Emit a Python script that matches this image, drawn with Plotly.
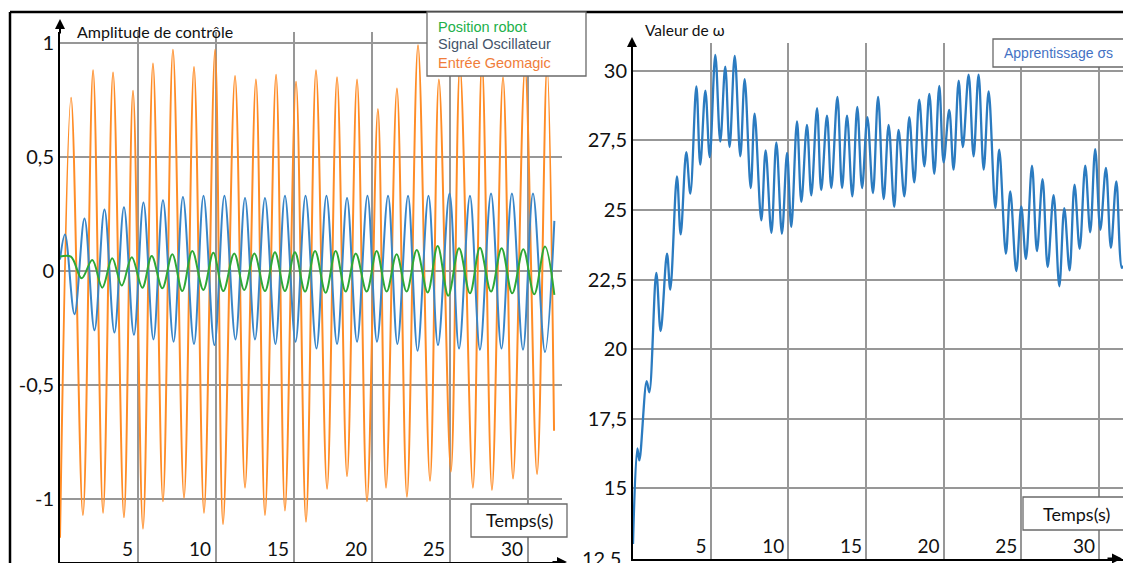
import plotly.graph_objects as go

W, H = 1123, 563

# ---------------- Left chart data (time in s, amplitude) ----------------
orange_t = [0.0, 0.71, 1.47, 2.12, 2.76, 3.40, 4.10, 4.68, 5.32, 5.96, 6.60, 7.24, 7.95, 8.59,
            9.23, 9.94, 10.45, 11.22, 11.86, 12.56, 13.14, 13.85, 14.42, 15.13, 15.77, 16.41,
            17.12, 17.76, 18.40, 19.04, 19.68, 20.38, 20.90, 21.60, 22.24, 22.95, 23.72, 24.29,
            25.06, 25.64, 26.47, 27.05, 27.69, 28.40, 29.04, 29.81, 30.58, 31.22, 31.67]
orange_v = [-1.17, 0.76, -1.07, 0.88, -1.06, 0.87, -1.08, 0.79, -1.13, 0.91, -1.01, 0.97, -0.995, 0.895,
            -1.06, 0.97, -1.11, 0.855, -0.95, 0.84, -1.07, 0.86, -1.05, 0.83, -1.10, 0.88,
            -0.955, 0.85, -0.90, 0.84, -1.01, 0.71, -0.95, 0.80, -0.99, 0.99, -0.92, 0.84,
            -0.88, 0.90, -0.95, 0.92, -0.96, 0.85, -0.91, 0.89, -0.89, 0.90, -0.70]

blue_t = [0.0, 0.32, 0.93, 1.57, 2.21, 2.85, 3.49, 4.10, 4.74, 5.35, 5.99, 6.60, 7.28, 7.88, 8.59,
          9.20, 9.90, 10.54, 11.25, 11.86, 12.50, 13.14, 13.81, 14.42, 15.10, 15.74, 16.44, 17.08,
          17.76, 18.40, 19.04, 19.71, 20.32, 21.03, 21.63, 22.31, 22.92, 23.62, 24.23, 24.97,
          25.58, 26.28, 26.92, 27.63, 28.30, 28.97, 29.68, 30.32, 31.09, 31.69]
blue_v = [0.05, 0.16, -0.19, 0.23, -0.26, 0.27, -0.27, 0.28, -0.28, 0.30, -0.30, 0.31, -0.31, 0.325, -0.32,
          0.33, -0.325, 0.33, -0.30, 0.32, -0.30, 0.32, -0.32, 0.33, -0.31, 0.33, -0.34, 0.33,
          -0.32, 0.32, -0.31, 0.33, -0.31, 0.33, -0.32, 0.33, -0.35, 0.33, -0.325, 0.34,
          -0.34, 0.33, -0.345, 0.34, -0.34, 0.34, -0.345, 0.34, -0.355, 0.22]

green_t = [0.0, 0.70, 1.39, 2.07, 2.71, 3.35, 3.96, 4.60, 5.28, 5.88, 6.56, 7.20, 7.84, 8.48, 9.19,
           9.83, 10.47, 11.17, 11.81, 12.46, 13.14, 13.78, 14.42, 15.06, 15.71, 16.35, 17.03,
           17.67, 18.31, 18.96, 19.66, 20.30, 20.94, 21.58, 22.22, 22.87, 23.57, 24.21, 24.89,
           25.58, 26.28, 26.92, 27.63, 28.31, 28.99, 29.70, 30.40, 31.09, 31.69]
green_v = [0.063, 0.063, -0.032, 0.048, -0.073, 0.056, -0.064, 0.060, -0.073, 0.066, -0.076, 0.073, -0.088, 0.088, -0.083,
           0.080, -0.088, 0.077, -0.083, 0.077, -0.088, 0.082, -0.088, 0.082, -0.090, 0.088, -0.095,
           0.088, -0.090, 0.077, -0.090, 0.088, -0.090, 0.073, -0.090, 0.092, -0.094, 0.110, -0.108,
           0.100, -0.098, 0.102, -0.090, 0.100, -0.098, 0.095, -0.102, 0.107, -0.105]

left_ticks_x = [5, 10, 15, 20, 25, 30]
left_ticks_y = [-1, -0.5, 0, 0.5, 1]
left_ticktext_y = ["-1", "-0,5", "0", "0,5", "1"]

# ---------------- Right chart data (time in s, omega) ----------------
omega_t = [0.0, 0.28, 0.41, 0.88, 1.05, 1.50, 1.78, 2.19, 2.40, 2.83, 3.07, 3.43, 3.69, 4.08, 4.33,
           4.66, 4.94, 5.30, 5.62, 5.94, 6.22, 6.55, 6.91, 7.19, 7.58, 7.83, 8.26, 8.54, 8.91,
           9.23, 9.59, 9.92, 10.19, 10.56, 10.84, 11.20, 11.48, 11.85, 12.12, 12.49, 12.77,
           13.16, 13.46, 13.78, 14.12, 14.44, 14.75, 15.09, 15.45, 15.78, 16.14, 16.46, 16.82,
           17.10, 17.47, 17.79, 18.11, 18.43, 18.76, 19.08, 19.40, 19.72, 20.00, 20.36, 20.64,
           20.97, 21.24, 21.61, 21.93, 22.25, 22.58, 22.90, 23.33, 23.58, 24.01, 24.29, 24.68,
           25.00, 25.30, 25.69, 26.01, 26.37, 26.70, 27.08, 27.45, 27.77, 28.11, 28.43, 28.76,
           29.12, 29.44, 29.76, 30.09, 30.45, 30.77, 31.12, 31.48, 31.60]
omega_v = [13.0, 16.43, 16.0, 18.85, 18.45, 22.74, 20.65, 23.43, 22.14, 26.21, 24.12, 27.08, 25.59, 29.44, 26.63,
           29.29, 26.90, 30.57, 27.46, 30.15, 27.26, 30.54, 26.93, 29.70, 25.79, 28.46, 24.63, 27.14, 24.18,
           27.43, 24.15, 27.05, 24.39, 28.18, 25.29, 28.06, 25.53, 28.66, 25.71, 28.39, 25.79,
           29.06, 25.79, 28.39, 25.49, 28.70, 25.79, 28.34, 25.61, 29.06, 25.39, 28.06, 25.11,
           27.88, 25.49, 28.34, 25.99, 28.96, 26.57, 29.17, 26.30, 29.46, 26.71, 28.60, 26.45,
           29.65, 27.26, 29.86, 26.93, 29.86, 26.45, 29.26, 25.07, 27.17, 23.43, 25.67, 22.80,
           25.13, 23.24, 26.59, 23.52, 26.11, 22.95, 25.53, 22.26, 25.07, 22.83, 25.91, 23.60,
           26.59, 24.20, 27.19, 24.29, 26.51, 23.64, 26.03, 22.92, 23.0]

right_ticks_x = [5, 10, 15, 20, 25, 30]
right_ticks_y = [12.5, 15, 17.5, 20, 22.5, 25, 27.5, 30]
right_ticktext_y = ["12,5", "15", "17,5", "20", "22,5", "25", "27,5", "30"]

legend_names = ["Position robot", "Signal Oscillateur", "Entrée Geomagic"]
legend_colors = ["#22b04a", "#44546a", "#f07d3a"]

C_ORANGE = "#ff8c26"
C_BLUE = "#3a86c8"
C_GREEN = "#2ea836"
C_OMEGA = "#2b7bc0"
GRID = "#979797"


def px(x):
    return x / W


def py(y):
    return 1 - y / H


fig = go.Figure()
fig.add_trace(go.Scatter(x=orange_t, y=orange_v, mode="lines", line=dict(color=C_ORANGE, width=2, shape="spline", smoothing=1.0),
                         xaxis="x", yaxis="y", name=legend_names[2]))
fig.add_trace(go.Scatter(x=blue_t, y=blue_v, mode="lines", line=dict(color=C_BLUE, width=2, shape="spline", smoothing=1.0),
                         xaxis="x", yaxis="y", name=legend_names[1]))
fig.add_trace(go.Scatter(x=green_t, y=green_v, mode="lines", line=dict(color=C_GREEN, width=2, shape="spline", smoothing=1.0),
                         xaxis="x", yaxis="y", name=legend_names[0]))
fig.add_trace(go.Scatter(x=omega_t, y=omega_v, mode="lines", line=dict(color=C_OMEGA, width=2.3, shape="spline", smoothing=1.0),
                         xaxis="x2", yaxis="y2", name="Apprentissage σs"))

axis_common = dict(showgrid=True, gridcolor=GRID, gridwidth=1.5, zeroline=False, showline=True,
                   linecolor="black", linewidth=2, ticks="", automargin=False)
xfont = dict(family="Lato", size=19, color="#111")
yfont = dict(family="Lato", size=20, color="#111")

fig.update_layout(
    width=W, height=H, autosize=False, margin=dict(l=0, r=0, t=0, b=0),
    paper_bgcolor="white", plot_bgcolor="white", showlegend=False,
    xaxis=dict(domain=[px(60), px(562)], range=[0, 32.18], anchor="y", tickvals=left_ticks_x,
               ticklabelposition="inside left", ticklabelshift=-4, tickfont=xfont, **axis_common),
    yaxis=dict(domain=[py(562), py(32)], range=[-1.276, 1.048], anchor="x", tickvals=left_ticks_y,
               ticktext=left_ticktext_y, tickfont=yfont, ticklabeloverflow="allow", **axis_common),
    xaxis2=dict(domain=[px(633), 1.0], range=[0, 31.55], anchor="y2", tickvals=right_ticks_x,
                ticklabelposition="inside left", ticklabelshift=-3, tickfont=xfont, **axis_common),
    yaxis2=dict(domain=[py(558.7), py(43)], range=[12.47, 31.0], anchor="x2", tickvals=right_ticks_y[1:],
                ticktext=right_ticktext_y[1:], tickfont=yfont, ticklabeloverflow="allow", **axis_common),
)

shapes = []
# outer black frame lines
shapes.append(dict(type="line", xref="paper", yref="paper", x0=px(10), x1=1.0, y0=py(12), y1=py(12),
                   line=dict(color="black", width=2.5), layer="above"))
shapes.append(dict(type="line", xref="paper", yref="paper", x0=px(10), x1=px(10), y0=py(12), y1=0,
                   line=dict(color="black", width=2.5), layer="above"))
# legend boxes and Temps boxes
for (x0, y0, x1, y1) in [(427, 12, 586, 76), (471, 504, 567, 537), (993, 39, 1128, 67), (1023, 497, 1128, 530)]:
    shapes.append(dict(type="rect", xref="paper", yref="paper", x0=px(x0), x1=px(x1), y0=py(y1), y1=py(y0),
                       fillcolor="white", line=dict(color="#6a6a6a", width=1.3), layer="above"))
fig.update_layout(shapes=shapes)

ann = []
# bottom tick label of the right value axis (sits at the lower edge of the page)
ann.append(dict(xref="paper", yref="y2", x=px(623), y=right_ticks_y[0], text=right_ticktext_y[0], showarrow=False,
                xanchor="right", yanchor="middle", font=yfont))
ann.append(dict(xref="paper", yref="paper", x=px(75), y=py(31), text="Amplitude de contrôle", showarrow=False,
                xanchor="left", yanchor="middle", font=dict(family="Lato", size=16, color="#111")))
ann.append(dict(xref="paper", yref="paper", x=px(643), y=py(30), text="Valeur de ω", showarrow=False,
                xanchor="left", yanchor="middle", font=dict(family="Lato", size=15.5, color="#111")))
for name, col, yy in zip(legend_names, legend_colors, [27, 44.5, 62.5]):
    ann.append(dict(xref="paper", yref="paper", x=px(436), y=py(yy), text=name, showarrow=False,
                    xanchor="left", yanchor="middle", font=dict(family="Liberation Sans", size=14.5, color=col)))
ann.append(dict(xref="paper", yref="paper", x=px(1002), y=py(53), text="Apprentissage σs", showarrow=False,
                xanchor="left", yanchor="middle", font=dict(family="Liberation Sans", size=14, color="#4472c4")))
ann.append(dict(xref="paper", yref="paper", x=px(519), y=py(520), text="Temps(s)", showarrow=False,
                xanchor="center", yanchor="middle", font=dict(family="Lato", size=18, color="#111")))
ann.append(dict(xref="paper", yref="paper", x=px(1076), y=py(514), text="Temps(s)", showarrow=False,
                xanchor="center", yanchor="middle", font=dict(family="Lato", size=18, color="#111")))
# axis arrowheads
for (tx, ty, axo, ayo) in [(60, 19, 0, 16), (632, 37, 0, 16), (567, 562, -16, 0), (1122, 558.5, -16, 0)]:
    ann.append(dict(xref="paper", yref="paper", x=px(tx), y=py(ty), ax=axo, ay=ayo, text="",
                    showarrow=True, arrowhead=2, arrowsize=1, arrowwidth=2, arrowcolor="black"))
fig.update_layout(annotations=ann)

# remove the default 8px page margin so the figure sits at the window's top-left corner
fig.write_html("out.html", config={"displayModeBar": False},
               post_script="document.body.style.margin='0';document.body.style.overflow='hidden';")
